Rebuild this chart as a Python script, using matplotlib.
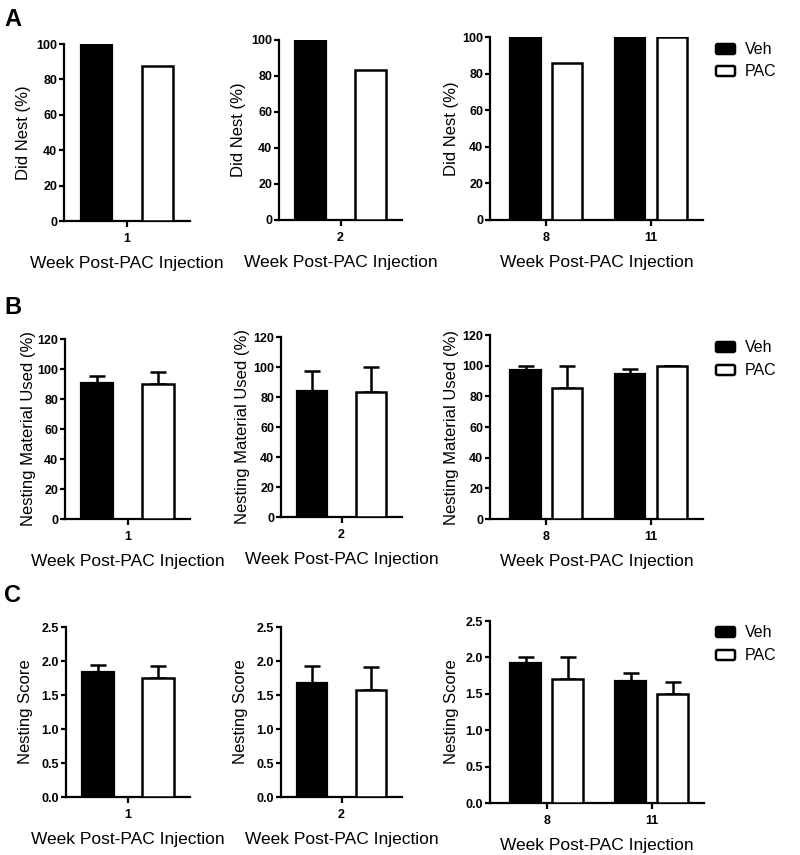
import matplotlib
matplotlib.use("Agg")
import matplotlib.pyplot as plt

plt.rcParams['font.family'] = ['Liberation Sans', 'DejaVu Sans']

# ---------------- data ----------------
weeks_left = ["1"]
weeks_mid = ["2"]
weeks_right = ["8", "11"]

# A: Did Nest (%)
a_veh_w1 = [100.0]
a_pac_w1 = [87.5]
a_veh_w2 = [100.0]
a_pac_w2 = [83.3]
a_veh_w811 = [100.0, 100.0]
a_pac_w811 = [85.7, 100.0]

# B: Nesting Material Used (%) mean and SEM
b_veh_w1 = [91.0]; b_veh_w1_err = [4.3]
b_pac_w1 = [90.3]; b_pac_w1_err = [7.5]
b_veh_w2 = [84.2]; b_veh_w2_err = [13.4]
b_pac_w2 = [83.3]; b_pac_w2_err = [16.7]
b_veh_w811 = [97.5, 94.3]; b_veh_w811_err = [2.2, 3.4]
b_pac_w811 = [85.7, 100.0]; b_pac_w811_err = [14.3, 0.0]

# C: Nesting Score mean and SEM
c_veh_w1 = [1.84]; c_veh_w1_err = [0.10]
c_pac_w1 = [1.75]; c_pac_w1_err = [0.17]
c_veh_w2 = [1.67]; c_veh_w2_err = [0.25]
c_pac_w2 = [1.58]; c_pac_w2_err = [0.33]
c_veh_w811 = [1.92, 1.67]; c_veh_w811_err = [0.08, 0.11]
c_pac_w811 = [1.71, 1.50]; c_pac_w811_err = [0.29, 0.16]

# ---------------- layout ----------------
W, H = 800, 855
fig = plt.figure(figsize=(W / 100, H / 100), dpi=100)

def add_ax(l, r, t, b):
    return fig.add_axes([l / W, 1 - b / H, (r - l) / W, (b - t) / H])

LW = 1.6

def style(ax, ylim, yticks, ylabel, fmt):
    for s in ['top', 'right']:
        ax.spines[s].set_visible(False)
    for s in ['left', 'bottom']:
        ax.spines[s].set_linewidth(LW)
    ax.set_ylim(*ylim)
    ax.set_yticks(yticks)
    ax.set_yticklabels([fmt.format(v) for v in yticks], fontweight='bold', fontsize=9)
    ax.tick_params(axis='y', length=3.5, width=LW, pad=1.5)
    ax.tick_params(axis='x', length=4.5, width=LW, pad=4)
    ax.set_ylabel(ylabel, fontsize=12)
    ax.set_xlabel("Week Post-PAC Injection", fontsize=12.5, labelpad=8)

def draw(ax, labels, veh, pac, veh_err, pac_err, single):
    xs = list(range(len(labels)))
    if single:
        off, w = 0.5, 0.52
        ax.set_xlim(-1.03, 1.03)
    else:
        off, w = 0.20, 0.29
        ax.set_xlim(-0.54, 1.50)
    xv = [x - off for x in xs]
    xp = [x + off for x in xs]
    ax.bar(xv, veh, width=w, color='black', edgecolor='black', linewidth=LW, zorder=3)
    ax.bar(xp, pac, width=w, color='white', edgecolor='black', linewidth=1.8, zorder=3)
    if veh_err is not None:
        ax.errorbar(xv, veh, yerr=[[0] * len(veh), veh_err], fmt='none', ecolor='black',
                    elinewidth=1.8, capsize=5.5, capthick=1.8, zorder=2)
        ax.errorbar(xp, pac, yerr=[[0] * len(pac), pac_err], fmt='none', ecolor='black',
                    elinewidth=1.8, capsize=5.5, capthick=1.8, zorder=2)
    ax.set_xticks(xs)
    ax.set_xticklabels(labels, fontweight='bold', fontsize=9)

rows = [
    dict(boxes=[(64, 190, 44, 221), (279, 402, 40, 220), (490, 703, 37, 220)],
         ylim=(0, 100), yticks=[0, 20, 40, 60, 80, 100], ylabel="Did Nest (%)", fmt="{:g}",
         data=[(weeks_left, a_veh_w1, a_pac_w1, None, None),
               (weeks_mid, a_veh_w2, a_pac_w2, None, None),
               (weeks_right, a_veh_w811, a_pac_w811, None, None)],
         letter=("A", 8), leg_y=(49, 71), lab_off=[33, 33, 31]),
    dict(boxes=[(65, 190, 339, 519), (281, 402, 337, 517), (490, 703, 335, 519)],
         ylim=(0, 120), yticks=[0, 20, 40, 60, 80, 100, 120], ylabel="Nesting Material Used (%)", fmt="{:g}",
         data=[(weeks_left, b_veh_w1, b_pac_w1, b_veh_w1_err, b_pac_w1_err),
               (weeks_mid, b_veh_w2, b_pac_w2, b_veh_w2_err, b_pac_w2_err),
               (weeks_right, b_veh_w811, b_pac_w811, b_veh_w811_err, b_pac_w811_err)],
         letter=("B", 296), leg_y=(347, 370), lab_off=[29, 31, 31]),
    dict(boxes=[(66, 190, 627, 797), (281, 402, 627, 797), (490, 704, 621, 803)],
         ylim=(0, 2.5), yticks=[0, 0.5, 1.0, 1.5, 2.0, 2.5], ylabel="Nesting Score", fmt="{:.1f}",
         data=[(weeks_left, c_veh_w1, c_pac_w1, c_veh_w1_err, c_pac_w1_err),
               (weeks_mid, c_veh_w2, c_pac_w2, c_veh_w2_err, c_pac_w2_err),
               (weeks_right, c_veh_w811, c_pac_w811, c_veh_w811_err, c_pac_w811_err)],
         letter=("C", 584), leg_y=(632, 655), lab_off=[33, 33, 31]),
]

for row in rows:
    for i, (box, d) in enumerate(zip(row['boxes'], row['data'])):
        ax = add_ax(*box)
        labels, veh, pac, ve, pe = d
        draw(ax, labels, veh, pac, ve, pe, single=(i < 2))
        style(ax, row['ylim'], row['yticks'], row['ylabel'], row['fmt'])
        ax.yaxis.set_label_coords(-row['lab_off'][i] / (box[1] - box[0]), 0.5)
    letter, ly = row['letter']
    fig.text(4 / W, 1 - ly / H, letter, fontsize=17, fontweight='bold', va='top', ha='left')
    y1, y2 = row['leg_y']
    for yy, col, name in [(y1, 'black', 'Veh'), (y2, 'white', 'PAC')]:
        fig.patches.append(matplotlib.patches.FancyBboxPatch(
            (716 / W, 1 - (yy + 5) / H), 19 / W, 10 / H, boxstyle="round,pad=0,rounding_size=0.002",
            transform=fig.transFigure, facecolor=col, edgecolor='black', linewidth=1.8))
        fig.text(745 / W, 1 - yy / H, name, fontsize=11.5, va='center', ha='left')

fig.savefig("out.png", dpi=100)
